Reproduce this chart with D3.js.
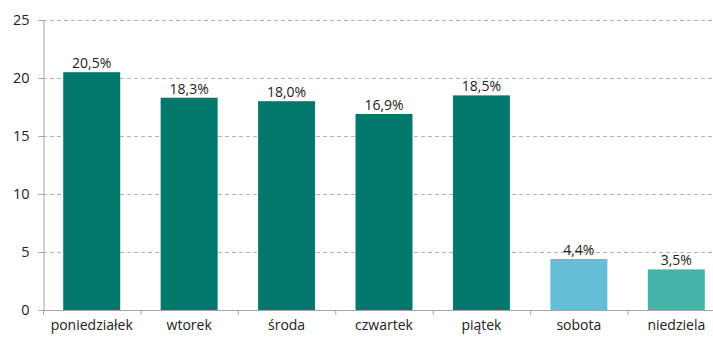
<!DOCTYPE html>
<html>
<head>
<meta charset="utf-8">
<script src="https://cdn.jsdelivr.net/npm/d3@7"></script>
<style>
  body { margin: 0; background: #fff; }
  svg text { font-family: "Open Sans", "Liberation Sans", sans-serif; fill: #222; }
</style>
</head>
<body>
<div id="chart"></div>
<script>
// dane
const days = ['poniedziałek', 'wtorek', 'środa', 'czwartek', 'piątek', 'sobota', 'niedziela'];
const shares = [20.5, 18.3, 18.0, 16.9, 18.5, 4.4, 3.5];
const barColors = ['#00786c', '#00786c', '#00786c', '#00786c', '#00786c', '#64bed5', '#44b3a8'];
const yTicks = [0, 5, 10, 15, 20, 25];

const width = 713, height = 338;
const svg = d3.select('#chart').append('svg')
    .attr('width', width)
    .attr('height', height);

const x = d3.scaleBand().domain(days).range([43, 725]).paddingInner(0.415).paddingOuter(0.2075);
const y = d3.scaleLinear().domain([0, 25]).range([310, 20]);

// linie siatki
svg.append('g')
    .selectAll('line')
    .data(yTicks.filter(d => d > 0))
    .join('line')
    .attr('x1', 43).attr('x2', width)
    .attr('y1', d => y(d) + 0.5).attr('y2', d => y(d) + 0.5)
    .attr('stroke', '#b4b4b4')
    .attr('stroke-dasharray', '4,3');

// słupki
svg.append('g')
    .selectAll('rect')
    .data(shares)
    .join('rect')
    .attr('x', (d, i) => x(days[i]))
    .attr('y', d => y(d))
    .attr('width', x.bandwidth())
    .attr('height', d => y(0) - y(d))
    .attr('fill', (d, i) => barColors[i]);

// etykiety wartości
svg.append('g')
    .selectAll('text')
    .data(shares)
    .join('text')
    .attr('x', (d, i) => x(days[i]) + x.bandwidth() / 2)
    .attr('y', d => y(d) - 4)
    .attr('text-anchor', 'middle')
    .style('font-size', '14px')
    .text(d => d.toFixed(1).replace('.', ',') + '%');

// oś Y
const yAxis = svg.append('g')
    .attr('transform', 'translate(43.5,0)')
    .call(d3.axisLeft(y).tickValues(yTicks).tickSize(5).tickPadding(9));
yAxis.select('.domain').attr('stroke', '#a6a6a6');
yAxis.selectAll('.tick line').attr('stroke', '#a6a6a6');
yAxis.selectAll('.tick text').style('font-size', '14.5px').attr('fill', '#222');

// oś X
const xAxis = svg.append('g')
    .attr('transform', 'translate(0,' + (y(0) + 0.5) + ')')
    .call(d3.axisBottom(x).tickSize(0).tickPadding(10));
xAxis.select('.domain').attr('stroke', '#a6a6a6').attr('d', 'M43,0H725');
xAxis.selectAll('.tick text').style('font-size', '14px').attr('fill', '#222');

// znaczniki między kategoriami
svg.append('g')
    .selectAll('line')
    .data(d3.range(days.length + 1))
    .join('line')
    .attr('x1', i => 43.5 + i * (682 / days.length))
    .attr('x2', i => 43.5 + i * (682 / days.length))
    .attr('y1', y(0)).attr('y2', y(0) + 5)
    .attr('stroke', '#a6a6a6');
</script>
</body>
</html>
